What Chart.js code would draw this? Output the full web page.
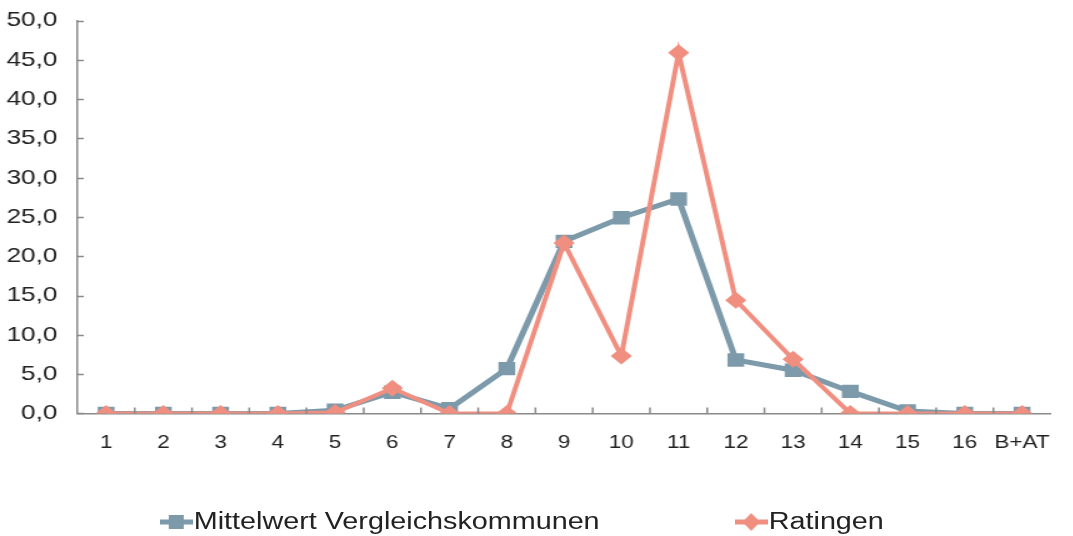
<!DOCTYPE html>
<html>
<head>
<meta charset="utf-8">
<script src="https://cdn.jsdelivr.net/npm/chart.js@4/dist/chart.umd.min.js"></script>
<style>
  html, body { margin: 0; padding: 0; background: #fff; overflow: hidden; width: 1073px; height: 536px; }
  /* Das Original ist horizontal gestreckt, daher wird alles um 1.25 in x skaliert */
  #wrap { position: relative; width: 859px; height: 536px; transform: scaleX(1.25); transform-origin: 0 0; }
  #chart { position: absolute; left: 0; top: -8px; }
  .legend { position: absolute; top: 508px; font-family: "Liberation Sans", Arial, sans-serif; font-size: 23px; color: #222; white-space: nowrap; display: flex; align-items: center; }
  .legend canvas { margin-right: 1px; }
</style>
</head>
<body>
<div id="wrap">
  <canvas id="chart" width="859" height="481"></canvas>
  <div class="legend" style="left:128px"><canvas id="lg1" width="26" height="20"></canvas>Mittelwert Vergleichskommunen</div>
  <div class="legend" style="left:588px"><canvas id="lg2" width="26" height="20"></canvas>Ratingen</div>
</div>
<script>
// Kategorien und Werte
const categories = ['1', '2', '3', '4', '5', '6', '7', '8', '9', '10', '11', '12', '13', '14', '15', '16', 'B+AT'];
const mittelwert = [0, 0, 0, 0, 0.4, 2.7, 0.6, 5.7, 21.9, 24.9, 27.3, 6.8, 5.5, 2.8, 0.3, 0, 0];
const ratingen = [0, 0, 0, 0, 0.1, 3.2, 0, 0, 21.7, 7.3, 45.9, 14.4, 6.9, 0, 0, 0, 0];
const yMax = 50;
const yStep = 5;

const blue = '#7d9aaa';
const red = '#f08f80';
const axisColor = '#8a8a8a';

// Innenliegende Teilstriche wie im Original
const innerTicks = {
  id: 'innerTicks',
  afterDraw(chart) {
    const ctx = chart.ctx;
    const x = chart.scales.x, y = chart.scales.y;
    ctx.save();
    ctx.strokeStyle = axisColor;
    ctx.lineWidth = 1.5;
    ctx.beginPath();
    for (let v = 0; v <= yMax; v += yStep) {
      const py = Math.round(y.getPixelForValue(v)) + 0.5;
      ctx.moveTo(x.left, py);
      ctx.lineTo(x.left + 5, py);
    }
    for (let i = 1; i < categories.length; i++) {
      const px = (x.getPixelForValue(i - 1) + x.getPixelForValue(i)) / 2;
      ctx.moveTo(px, y.bottom);
      ctx.lineTo(px, y.bottom - 6);
    }
    ctx.stroke();
    ctx.restore();
  }
};

new Chart(document.getElementById('chart'), {
  type: 'line',
  data: {
    labels: categories,
    datasets: [{
      label: 'Mittelwert Vergleichskommunen',
      data: mittelwert,
      borderColor: blue,
      backgroundColor: blue,
      borderWidth: 5,
      pointStyle: 'rect',
      pointRadius: 9.5,
      pointBorderWidth: 0,
      tension: 0,
      order: 1
    }, {
      label: 'Ratingen',
      data: ratingen,
      borderColor: red,
      backgroundColor: red,
      borderWidth: 4,
      pointStyle: 'rectRot',
      pointRadius: 8.5,
      pointBorderWidth: 0,
      tension: 0,
      order: 0
    }]
  },
  options: {
    responsive: false,
    animation: false,
    layout: { padding: { top: 0, right: 0, left: 0, bottom: 0 } },
    plugins: { legend: { display: false }, tooltip: { enabled: false } },
    scales: {
      x: {
        offset: true,
        grid: { display: false, drawTicks: false, offset: true },
        border: { color: axisColor, width: 1.5 },
        ticks: { color: '#222', padding: 19, maxRotation: 0, autoSkip: false,
          font: { family: '"Liberation Sans", Arial, sans-serif', size: 18 } }
      },
      y: {
        min: 0, max: yMax,
        afterFit(scale) { scale.width = 62; },
        grid: { display: false, drawTicks: false },
        border: { color: axisColor, width: 1.5 },
        ticks: { stepSize: yStep, color: '#222', padding: 16,
          font: { family: '"Liberation Sans", Arial, sans-serif', size: 21 },
          callback: v => v.toFixed(1).replace('.', ',') }
      }
    }
  },
  plugins: [innerTicks]
});

// Legendensymbole
function legendIcon(id, color, shape) {
  const c = document.getElementById(id).getContext('2d');
  c.strokeStyle = color; c.fillStyle = color; c.lineWidth = 5;
  c.beginPath(); c.moveTo(0, 10); c.lineTo(26, 10); c.stroke();
  c.beginPath();
  if (shape === 'rect') { c.rect(7, 3, 12, 14); }
  else { c.moveTo(13, 1); c.lineTo(20, 10); c.lineTo(13, 19); c.lineTo(6, 10); c.closePath(); }
  c.fill();
}
legendIcon('lg1', blue, 'rect');
legendIcon('lg2', red, 'diamond');
</script>
</body>
</html>
